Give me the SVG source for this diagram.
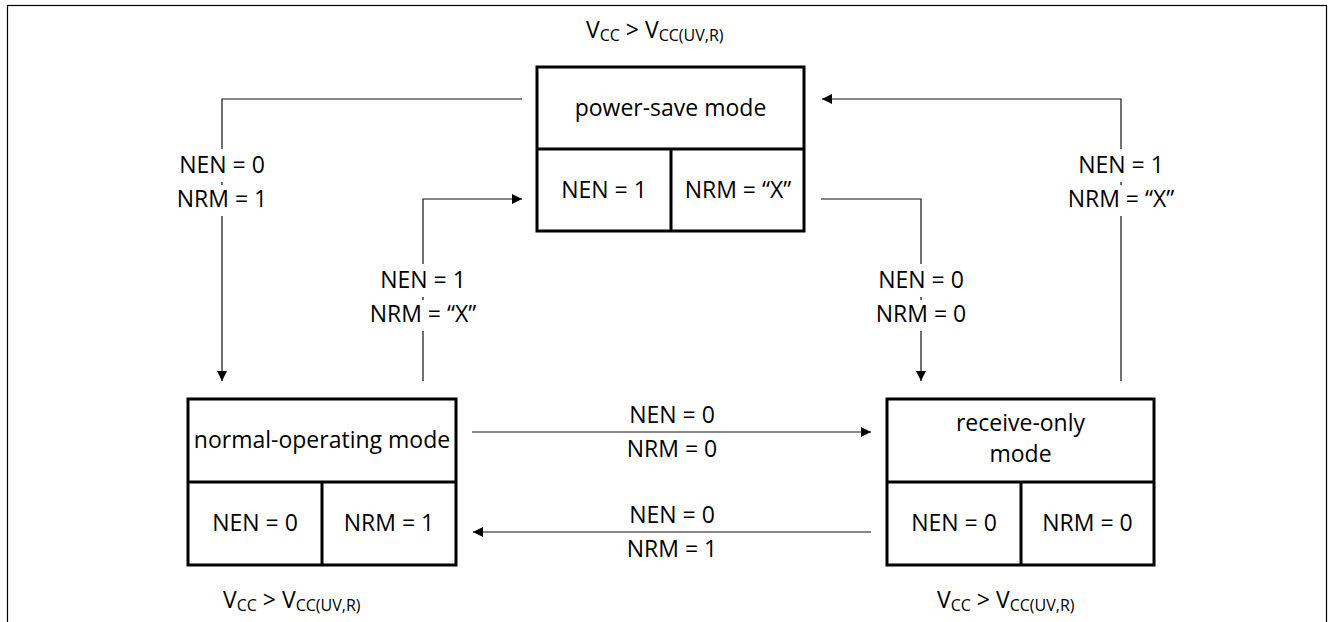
<svg xmlns="http://www.w3.org/2000/svg" width="1337" height="622" viewBox="0 0 1337 622">
<style>
text{font-family:"Open Sans","Liberation Sans",sans-serif;font-size:23px;fill:#000}
.c{text-anchor:middle}
.sub{font-size:16px}
.box{fill:#fff;stroke:#000;stroke-width:3}
.div{stroke:#000;stroke-width:3;fill:none}
.ln{fill:none;stroke:#111;stroke-width:1.2}
.bg{fill:#fff}
</style>
<defs>
<marker id="ah" markerUnits="userSpaceOnUse" markerWidth="11" markerHeight="10" refX="10" refY="5" orient="auto">
<path d="M0,0 L10,5 L0,10 z" fill="#000"/>
</marker>
</defs>
<rect x="7.5" y="5.5" width="1319" height="640" fill="#fff" stroke="#000" stroke-width="1.2"/>

<g id="connectors">
<path class="ln" d="M522,99 H222 V381" marker-end="url(#ah)"/>
<path class="ln" d="M423,381 V199 H522" marker-end="url(#ah)"/>
<path class="ln" d="M821,199 H921 V381" marker-end="url(#ah)"/>
<path class="ln" d="M1121,381 V99 H822" marker-end="url(#ah)"/>
<path class="ln" d="M472,432 H871" marker-end="url(#ah)"/>
<path class="ln" d="M871,532 H473" marker-end="url(#ah)"/>

<rect class="bg" x="170" y="149" width="104" height="33"/>
<rect class="bg" x="170" y="185" width="104" height="31"/>
<text class="c" x="222" y="173">NEN = 0</text>
<text class="c" x="222" y="207">NRM = 1</text>

<rect class="bg" x="360" y="264" width="126" height="33"/>
<rect class="bg" x="360" y="300" width="126" height="31"/>
<text class="c" x="423" y="288">NEN = 1</text>
<text class="c" x="423" y="322">NRM = “X”</text>

<rect class="bg" x="869" y="264" width="104" height="33"/>
<rect class="bg" x="869" y="300" width="104" height="31"/>
<text class="c" x="921" y="288">NEN = 0</text>
<text class="c" x="921" y="322">NRM = 0</text>

<rect class="bg" x="1058" y="149" width="126" height="33"/>
<rect class="bg" x="1058" y="185" width="126" height="31"/>
<text class="c" x="1121" y="173">NEN = 1</text>
<text class="c" x="1121" y="207">NRM = “X”</text>

<text class="c" x="672" y="423">NEN = 0</text>
<text class="c" x="672" y="457">NRM = 0</text>
<text class="c" x="672" y="523">NEN = 0</text>
<text class="c" x="672" y="557">NRM = 1</text>
</g>

<g id="power-save">
<rect class="box" x="537" y="67" width="267" height="164"/>
<path class="div" d="M537,149 H804 M671,149 V231"/>
<text class="c" x="670.5" y="116">power-save mode</text>
<text class="c" x="604" y="198">NEN = 1</text>
<text class="c" x="738" y="198">NRM = “X”</text>
<text x="586" y="38">V<tspan class="sub" dy="3">CC</tspan><tspan dy="-3"> &gt; V</tspan><tspan class="sub" dy="3">CC(UV,R)</tspan></text>
</g>

<g id="normal-operating">
<rect class="box" x="188" y="399" width="268" height="166"/>
<path class="div" d="M188,482 H456 M322,482 V565"/>
<text class="c" x="322" y="448">normal-operating mode</text>
<text class="c" x="255" y="531">NEN = 0</text>
<text class="c" x="389" y="531">NRM = 1</text>
<text x="223" y="608">V<tspan class="sub" dy="3">CC</tspan><tspan dy="-3"> &gt; V</tspan><tspan class="sub" dy="3">CC(UV,R)</tspan></text>
</g>

<g id="receive-only">
<rect class="box" x="887" y="399" width="267" height="166"/>
<path class="div" d="M887,482 H1154 M1021,482 V565"/>
<text class="c" x="1020.5" y="431">receive-only</text>
<text class="c" x="1020.5" y="462">mode</text>
<text class="c" x="954" y="531">NEN = 0</text>
<text class="c" x="1087.5" y="531">NRM = 0</text>
<text x="937" y="608">V<tspan class="sub" dy="3">CC</tspan><tspan dy="-3"> &gt; V</tspan><tspan class="sub" dy="3">CC(UV,R)</tspan></text>
</g>
</svg>
